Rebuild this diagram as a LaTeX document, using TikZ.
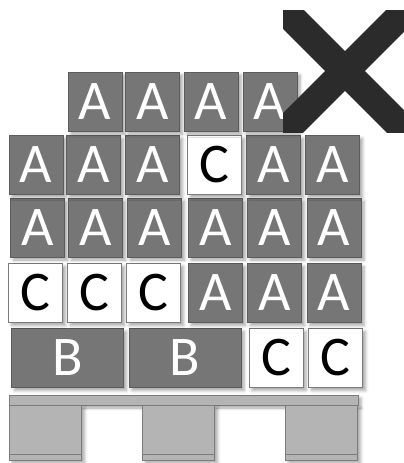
\documentclass[tikz,border=0pt]{standalone}
\usepackage{fontspec}
\setmainfont{Carlito}
\usetikzlibrary{calc,shadows.blur}
\definecolor{boxgray}{HTML}{767676}
\definecolor{boxedge}{HTML}{5C5C5C}
\definecolor{palletgray}{HTML}{B4B4B4}
\definecolor{palletedge}{HTML}{7C7C7C}
\definecolor{crossgray}{HTML}{2B2B2B}
\tikzset{
  softshadow/.style={
    blur shadow={shadow xshift=3pt, shadow yshift=-3pt,
      shadow blur radius=3pt, shadow opacity=35}
  },
  abox/.style={
    draw=boxedge,
    fill=boxgray,
    text=white,
    line width=1pt,
    inner sep=0pt,
    minimum width=54pt,
    minimum height=59pt,
    softshadow,
    font=\fontsize{56}{56}\selectfont
  },
  cbox/.style={
    abox,
    draw=palletedge,
    fill=white,
    text=black
  },
  bbox/.style={
    abox,
    minimum width=112pt
  },
  board/.style={
    draw=palletedge,
    fill=palletgray,
    line width=1pt,
    inner sep=0pt,
    softshadow
  }
}
\begin{document}
\begin{tikzpicture}[x=1pt,y=-1pt]
    \useasboundingbox (0,0) rectangle (404,463);
    % pallet
    \node[board,minimum width=349pt,minimum height=10pt] (deck) at (183.5,400) {};
    \foreach \x [count=\i] in {45.5,178.5,321.5}{
            \node[board,minimum width=72pt,minimum height=55pt] (f\i) at (\x,432.5) {};
            \draw[palletedge,line width=1pt] ($(f\i.south west)+(0,-6)$)--($(f\i.south east)+(0,-6)$);
        }
    % load, bottom row first
    \foreach \x/\s/\lbl [count=\i] in {67.5/bbox/B,185/bbox/B,276/cbox/C,335.5/cbox/C}{
            \node[\s] (e\i) at (\x,358) {\lbl};
        }
    \foreach \x/\s/\lbl [count=\i] in {35.5/cbox/C,94.5/cbox/C,153.5/cbox/C,215.5/abox/A,274.5/abox/A,334/abox/A}{
            \node[\s] (d\i) at (\x,293) {\lbl};
        }
    \foreach \x [count=\i] in {37.5,95.5,154.5,215.5,274.5,334}{
            \node[abox] (c\i) at (\x,227.5) {A};
        }
    \foreach \x/\s/\lbl [count=\i] in {36/abox/A,93.5/abox/A,152.5/abox/A,214.5/cbox/C,273.5/abox/A,332.5/abox/A}{
            \node[\s] (b\i) at (\x,165) {\lbl};
        }
    \foreach \x [count=\i] in {95,152.5,211,270}{
            \node[abox] (a\i) at (\x,101.5) {A};
        }
    % cross
    \coordinate (xc) at (345,71);
    \begin{scope}
        \clip (283,10) rectangle (404,132);
        \draw[crossgray,line width=28pt] ($(xc)+(-90,-90)$)--($(xc)+(90,90)$);
        \draw[crossgray,line width=28pt] ($(xc)+(-90,90)$)--($(xc)+(90,-90)$);
    \end{scope}
\end{tikzpicture}
\end{document}
